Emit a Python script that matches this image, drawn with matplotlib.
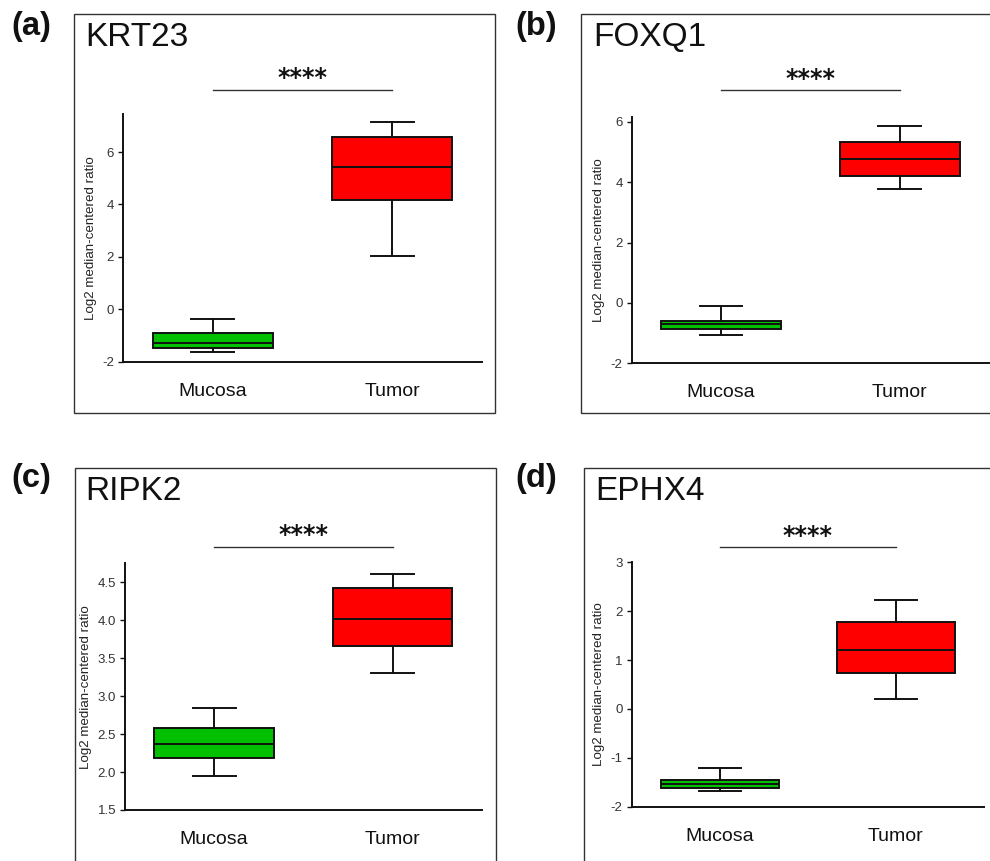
import matplotlib
matplotlib.use("Agg")
import matplotlib.pyplot as plt
import matplotlib.transforms as mtransforms
from matplotlib.patches import Rectangle

plt.rcParams['font.family'] = ['Liberation Sans', 'DejaVu Sans']

groups = ["Mucosa", "Tumor"]
genes = ["KRT23", "FOXQ1", "RIPK2", "EPHX4"]
panel_labels = ["(a)", "(b)", "(c)", "(d)"]

# [whislo, q1, median, q3, whishi] for Mucosa, Tumor
krt23_mucosa = [-1.62, -1.49, -1.30, -0.92, -0.38]
krt23_tumor = [2.02, 4.18, 5.44, 6.59, 7.14]
foxq1_mucosa = [-1.07, -0.86, -0.70, -0.59, -0.10]
foxq1_tumor = [3.77, 4.20, 4.77, 5.32, 5.85]
ripk2_mucosa = [1.95, 2.19, 2.37, 2.58, 2.85]
ripk2_tumor = [3.31, 3.66, 4.02, 4.42, 4.61]
ephx4_mucosa = [-1.67, -1.62, -1.54, -1.45, -1.215]
ephx4_tumor = [0.20, 0.74, 1.20, 1.78, 2.23]

ylims = [(-2, 7.45), (-2, 6.17), (1.5, 4.75), (-2, 3.0)]
yticks = [[-2, 0, 2, 4, 6], [-2, 0, 2, 4, 6],
          [1.5, 2.0, 2.5, 3.0, 3.5, 4.0, 4.5], [-2, -1, 0, 1, 2, 3]]
ytick_labels = [["-2", "0", "2", "4", "6"], ["-2", "0", "2", "4", "6"],
                ["1.5", "2.0", "2.5", "3.0", "3.5", "4.0", "4.5"],
                ["-2", "-1", "0", "1", "2", "3"]]
sig_levels = [8.37, 7.04, 4.97, 3.31]
sig_text = "****"
ylabel = "Log2 median-centered ratio"

data = [(krt23_mucosa, krt23_tumor), (foxq1_mucosa, foxq1_tumor),
        (ripk2_mucosa, ripk2_tumor), (ephx4_mucosa, ephx4_tumor)]
colors = ["#00C000", "#FF0000"]

W, H = 990, 861
fig = plt.figure(figsize=(9.9, 8.61), dpi=100)

# axes rectangles in pixels: left, top, right, bottom
ax_px = [(123, 114, 482, 361.7), (631.7, 116.7, 989, 363.3),
         (125, 563.3, 481.7, 810), (631.7, 562.3, 984, 806.7)]
frame_px = [(74, 14, 495, 413), (581, 14, 1000, 413),
            (74.7, 467.7, 496, 900), (584.3, 467.7, 1000, 900)]
title_px = [(85.7, 37), (593.3, 37), (85.7, 492), (595.7, 492)]
label_px = [(11, 27), (515.7, 27), (11, 478), (515.7, 478)]
star_y_px = [78, 79, 535, 536]

for i in range(4):
    l, t, r, b = ax_px[i]
    ax = fig.add_axes([l / W, 1 - b / H, (r - l) / W, (b - t) / H])
    stats = []
    for g, vals in zip(groups, data[i]):
        stats.append(dict(label=g, whislo=vals[0], q1=vals[1], med=vals[2],
                          q3=vals[3], whishi=vals[4], fliers=[]))
    bp = ax.bxp(stats, positions=[1, 2], widths=0.67, capwidths=0.24,
                patch_artist=True, showfliers=False,
                boxprops=dict(linewidth=1.4, edgecolor="#111111"),
                medianprops=dict(color="#111111", linewidth=1.4),
                whiskerprops=dict(color="#111111", linewidth=1.4),
                capprops=dict(color="#111111", linewidth=1.4))
    for patch, c in zip(bp['boxes'], colors):
        patch.set_facecolor(c)
    ax.set_xlim(0.5, 2.5)
    ax.set_ylim(*ylims[i])
    ax.set_yticks(yticks[i])
    ax.set_yticklabels(ytick_labels[i])
    ax.spines['top'].set_visible(False)
    ax.spines['right'].set_visible(False)
    for s in ['left', 'bottom']:
        ax.spines[s].set_linewidth(1.4)
        ax.spines[s].set_color("#111111")
    ax.tick_params(axis='y', length=3.5, width=1.0, labelsize=9.5,
                   labelcolor="#333333", pad=3, color="#111111")
    ax.tick_params(axis='x', length=0, labelsize=14, pad=15,
                   labelcolor="#111111")
    ax.set_ylabel(ylabel, fontsize=9.6, color="#222222", labelpad=4)
    # significance line
    ax.plot([1, 2], [sig_levels[i], sig_levels[i]], color="#333333",
            linewidth=1.0, clip_on=False)
    ax.text(1.5, 1 - star_y_px[i] / H, sig_text,
            transform=mtransforms.blended_transform_factory(ax.transData, fig.transFigure),
            ha='center', va='center', fontsize=17, fontweight='bold',
            family='DejaVu Sans', color="#111111")
    # frame
    fl, ft, fr, fb = frame_px[i]
    fig.patches.append(Rectangle((fl / W, 1 - fb / H), (fr - fl) / W, (fb - ft) / H,
                                 transform=fig.transFigure, fill=False,
                                 edgecolor="#333333", linewidth=1.0))
    tx, ty = title_px[i]
    fig.text(tx / W, 1 - ty / H, genes[i], ha='left', va='center',
             fontsize=24, color="#111111")
    lx, ly = label_px[i]
    fig.text(lx / W, 1 - ly / H, panel_labels[i], ha='left', va='center',
             fontsize=23.5, fontweight='bold', color="#111111")

fig.savefig("out.png", dpi=100)
